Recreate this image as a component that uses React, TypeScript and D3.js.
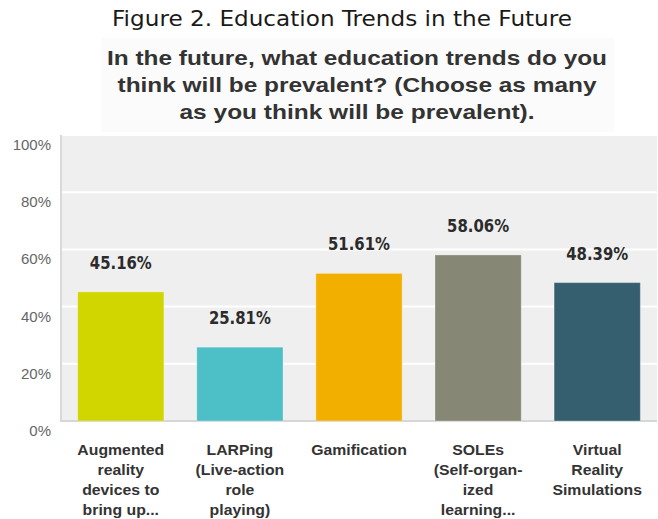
import React from "react";
import * as d3 from "d3";

const categories = [
  "Augmented reality devices to bring up...",
  "LARPing (Live-action role playing)",
  "Gamification",
  "SOLEs (Self-organized learning...",
  "Virtual Reality Simulations",
];
const categoryLines = [
  ["Augmented", "reality", "devices to", "bring up..."],
  ["LARPing", "(Live-action", "role", "playing)"],
  ["Gamification"],
  ["SOLEs", "(Self-organ-", "ized", "learning..."],
  ["Virtual", "Reality", "Simulations"],
];
const values = [0.4516, 0.2581, 0.5161, 0.5806, 0.4839];
const valueLabels = ["45.16%", "25.81%", "51.61%", "58.06%", "48.39%"];
const colors = ["#d1d500", "#4dbfc7", "#f3af00", "#868774", "#355f6f"];
const yTicks = [0, 0.2, 0.4, 0.6, 0.8, 1.0];
const yTickLabels = ["0%", "20%", "40%", "60%", "80%", "100%"];
const title = "Figure 2. Education Trends in the Future";
const subtitleLines = [
  "In the future, what education trends do you",
  "think will be prevalent? (Choose as many",
  "as you think will be prevalent).",
];
const subtitleWidths = [500, 479, 355];

const W = 658;
const H = 519;
const plot = { left: 61, right: 657, top: 135, bottom: 421 };

export default function App() {
  const x = d3
    .scaleBand<string>()
    .domain(categories)
    .range([plot.left, plot.right])
    .paddingInner(0.276)
    .paddingOuter(0.14);
  const y = d3.scaleLinear().domain([0, 1]).range([plot.bottom, plot.top]);

  return (
    <svg
      width={W}
      height={H}
      style={{ position: "absolute", left: 0, top: 0, background: "#fff" }}
    >
      {/* title */}
      <text
        x={342}
        y={26}
        textAnchor="middle"
        fontFamily="DejaVu Sans, Verdana, sans-serif"
        fontSize={21}
        fill="#1a1a1a"
        textLength={460}
        lengthAdjust="spacingAndGlyphs"
      >
        {title}
      </text>
      {/* subtitle background */}
      <rect x={101} y={38} width={513} height={94} fill="#fbfbfb" />
      {subtitleLines.map((line, i) => (
        <text
          key={i}
          x={357}
          y={65 + i * 27}
          textAnchor="middle"
          fontFamily="Liberation Sans, Arial, sans-serif"
          fontWeight="bold"
          fontSize={21}
          fill="#333"
          textLength={subtitleWidths[i]}
          lengthAdjust="spacingAndGlyphs"
        >
          {line}
        </text>
      ))}

      {/* plot background */}
      <rect
        x={plot.left}
        y={plot.top}
        width={plot.right - plot.left}
        height={plot.bottom - plot.top}
        fill="#efefef"
      />
      {/* gridlines */}
      {yTicks
        .filter((t) => t > 0)
        .map((t) => (
          <line
            key={t}
            x1={plot.left}
            x2={plot.right}
            y1={y(t)}
            y2={y(t)}
            stroke="#ffffff"
            strokeWidth={2}
          />
        ))}
      {/* axes borders */}
      <line
        x1={plot.left}
        x2={plot.left}
        y1={plot.top}
        y2={plot.bottom + 1}
        stroke="#d9d9d9"
        strokeWidth={2}
      />
      <line
        x1={plot.left}
        x2={plot.right}
        y1={plot.bottom}
        y2={plot.bottom}
        stroke="#d6d6d6"
        strokeWidth={2}
      />

      {/* y tick labels */}
      {yTicks.map((t, i) => (
        <text
          key={t}
          x={51}
          y={y(t) + 15}
          textAnchor="end"
          fontFamily="Liberation Sans, Arial, sans-serif"
          fontSize={15}
          fill="#666"
        >
          {yTickLabels[i]}
        </text>
      ))}

      {/* bars */}
      {categories.map((c, i) => (
        <rect
          key={c}
          x={x(c)!}
          y={y(values[i])}
          width={x.bandwidth()}
          height={y(0) - y(values[i])}
          fill={colors[i]}
          stroke="rgba(255,255,255,0.3)"
          strokeWidth={1}
        />
      ))}

      {/* value labels */}
      {categories.map((c, i) => (
        <text
          key={c}
          x={x(c)! + x.bandwidth() / 2}
          y={y(values[i]) - 23}
          textAnchor="middle"
          fontFamily="DejaVu Sans, Verdana, sans-serif"
          fontWeight="bold"
          fontSize={17}
          fill="#2b2b2b"
          textLength={62}
          lengthAdjust="spacingAndGlyphs"
        >
          {valueLabels[i]}
        </text>
      ))}

      {/* category labels */}
      {categories.map((c, i) => (
        <g
          key={c}
          transform={`translate(${x(c)! + x.bandwidth() / 2},455) scale(1.13,1)`}
        >
          {categoryLines[i].map((line, j) => (
            <text
              key={j}
              x={0}
              y={j * 20}
              textAnchor="middle"
              fontFamily="Liberation Sans, Arial, sans-serif"
              fontWeight="bold"
              fontSize={14}
              fill="#333"
            >
              {line}
            </text>
          ))}
        </g>
      ))}
    </svg>
  );
}
